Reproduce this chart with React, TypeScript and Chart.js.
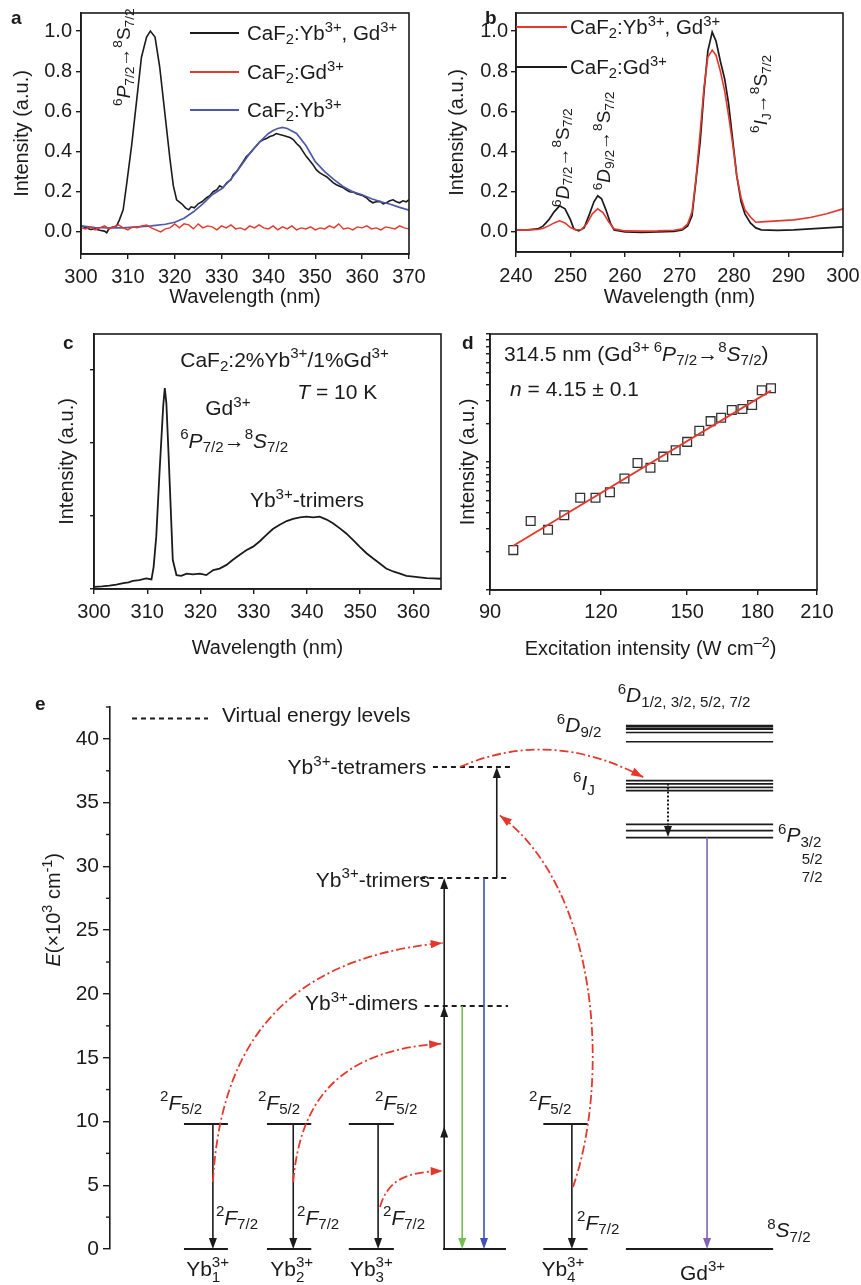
import React, { useEffect, useRef } from "react";
import { Chart, registerables } from "chart.js";
Chart.register(...registerables);

const FONT = '"Liberation Sans", Arial, Helvetica, sans-serif';
const INK = "#1b1b1b";
const RED = "#e5382d";
const BLUE = "#4f59a8";
const GREEN = "#72c04d";
const BLUE2 = "#3f50b6";
const PURPLE = "#8064b4";

// ---------------- Panel a ----------------
const aWlBlack = [300,301,302,303,304,305,305.5,306,307,307.6,308.2,309,309.7,310.8,311.9,312.9,314,314.8,315.8,316.8,317.9,319,319.7,320.4,321.5,322.3,323,323.5,324.2,325,325.8,326.8,327.5,328.2,329,329.6,330.3,331.1,332,332.5,333.2,333.9,334.6,335.3,336,336.7,337.5,338.2,339,339.6,340.3,341,341.7,342.4,343.2,343.9,344.6,345.3,346,346.7,347.4,348.1,348.8,349.5,350.2,350.9,351.6,352.4,353.1,353.8,354.5,355.2,356,356.6,357.3,358.1,358.8,359.5,360.2,360.9,361.6,362.3,363,363.8,364.5,365.2,365.9,366.6,367.3,368,368.7,369.4,370];
const aIntBlack = [0.030,0.022,0.012,0.015,0.008,0.004,-0.004,0.018,0.025,0.030,0.060,0.110,0.230,0.430,0.660,0.870,0.970,1.000,0.970,0.820,0.590,0.360,0.230,0.160,0.140,0.120,0.110,0.125,0.120,0.140,0.150,0.170,0.180,0.200,0.210,0.230,0.220,0.245,0.260,0.285,0.300,0.325,0.350,0.375,0.390,0.410,0.430,0.450,0.460,0.465,0.475,0.480,0.490,0.485,0.480,0.475,0.470,0.460,0.440,0.425,0.400,0.375,0.355,0.335,0.310,0.295,0.285,0.275,0.260,0.245,0.235,0.227,0.220,0.210,0.200,0.198,0.190,0.185,0.180,0.170,0.155,0.145,0.150,0.152,0.140,0.145,0.155,0.160,0.150,0.145,0.155,0.150,0.160];
const aWlBlue = [300,303,306,309,312,315,318,320,322,324,326,328,330,332,334,336,338,340,341,342,343,344,346,348,350,352,354,356,358,360,362,364,366,368,370];
const aIntBlue = [0.030,0.022,0.020,0.020,0.025,0.030,0.038,0.048,0.068,0.100,0.140,0.185,0.215,0.262,0.325,0.390,0.445,0.490,0.505,0.515,0.520,0.515,0.490,0.430,0.350,0.300,0.260,0.225,0.200,0.185,0.165,0.150,0.138,0.122,0.108];
const aWlRed = [300,301,302,303,304,305,306,307,308,309,310,311,312,313,314,315,316,317,318,319,320,321,322,323,324,325,326,327,328,329,330,331,332,333,334,335,336,337,338,339,340,341,342,343,344,345,346,347,348,349,350,351,352,353,354,355,356,357,358,359,360,361,362,363,364,365,366,367,368,369,370];
const aIntRed = [0.02,0.015,0.025,0.01,0.02,0.03,0.015,0.025,0.035,0.02,0.01,0.025,0.02,0.03,0.035,0.02,0.01,0.0,0.015,0.02,0.04,0.02,0.04,0.035,0.015,0.04,0.02,0.03,0.025,0.01,0.03,0.02,0.035,0.015,0.02,0.01,0.03,0.02,0.035,0.02,0.015,0.03,0.01,0.025,0.015,0.03,0.01,0.02,0.015,0.025,0.01,0.02,0.015,0.03,0.02,0.04,0.015,0.02,0.01,0.025,0.02,0.03,0.015,0.02,0.01,0.025,0.02,0.015,0.03,0.02,0.015];
const aXTicks = [300,310,320,330,340,350,360,370];
const aYTicks = [0,0.2,0.4,0.6,0.8,1.0];
const aLegend = ["CaF_{2}:Yb^{3+}, Gd^{3+}", "CaF_{2}:Gd^{3+}", "CaF_{2}:Yb^{3+}"];

// ---------------- Panel b ----------------
const bWlBlack = [240,242,244,245,246,247,248,249,250,250.6,251.5,252.5,253.5,254.3,255,255.7,256.5,257.3,258,260,263,266,269,270.5,271.5,272.3,273,273.8,274.5,275.2,276,276.7,277.5,278.3,279,279.8,280.5,281.3,282,283,284,285,288,291,294,297,300];
const bIntBlack = [0.010,0.010,0.015,0.030,0.060,0.100,0.130,0.115,0.060,0.015,0.005,0.020,0.090,0.150,0.180,0.165,0.110,0.045,0.010,0.000,-0.002,0.000,0.002,0.010,0.030,0.080,0.250,0.450,0.700,0.900,0.995,0.950,0.850,0.760,0.640,0.450,0.280,0.150,0.090,0.045,0.020,0.010,0.008,0.010,0.015,0.020,0.025];
const bWlRed = [240,242,244,245,246,247,248,249,250,251,252,253,254,255,256,257,258,260,263,266,269,270.5,271.5,272.3,273,273.8,274.5,275.2,276,276.7,277.5,278.3,279,279.8,280.5,281.3,282,283,284,285,288,291,294,297,300];
const bIntRed = [0.010,0.010,0.012,0.018,0.030,0.045,0.055,0.045,0.022,0.010,0.012,0.040,0.090,0.115,0.095,0.050,0.015,0.005,0.004,0.005,0.008,0.015,0.040,0.100,0.260,0.500,0.720,0.870,0.905,0.880,0.800,0.700,0.580,0.430,0.280,0.170,0.110,0.075,0.048,0.050,0.055,0.060,0.072,0.090,0.115];
const bXTicks = [240,250,260,270,280,290,300];
const bYTicks = [0,0.2,0.4,0.6,0.8,1.0];
const bLegend = ["CaF_{2}:Yb^{3+}, Gd^{3+}", "CaF_{2}:Gd^{3+}"];

// ---------------- Panel c ----------------
const cWl = [300,301.5,302.9,304.2,305.5,306.5,307.3,308.5,309.8,310.8,311.2,311.7,312.3,313,313.3,313.6,314,314.5,314.8,315.5,316.4,317.4,318.6,319.9,321.1,322.4,323.6,324.9,326.1,327.4,328.6,329.9,331.1,332.4,333.6,334.9,336.2,337.4,338.7,339.9,341.2,342.4,343.7,344.9,346.2,347.4,348.7,349.9,351.2,352.4,353.7,354.9,356.2,357.5,358.7,360,361.2,362.5,363.7,365.2];
const cInt = [0.03,0.035,0.045,0.06,0.08,0.09,0.11,0.12,0.146,0.13,0.3,0.72,1.58,2.5,2.75,2.54,1.86,0.95,0.4,0.19,0.18,0.21,0.2,0.21,0.19,0.26,0.28,0.33,0.4,0.47,0.53,0.58,0.65,0.74,0.82,0.88,0.93,0.96,0.98,0.99,0.98,0.99,0.95,0.9,0.83,0.76,0.67,0.58,0.49,0.42,0.35,0.28,0.24,0.21,0.18,0.17,0.16,0.15,0.146,0.14];
const cXTicks = [300,310,320,330,340,350,360];
const cYTicks = [0,1,2,3];

// ---------------- Panel d ----------------
const dExc = [95.6,100.0,104.6,109.1,113.7,118.3,122.8,127.5,131.9,136.4,141.0,145.6,150.0,154.8,159.4,163.8,168.4,173.1,177.5,182.0,186.4];
const dInt = [0.205,0.346,0.296,0.384,0.525,0.525,0.581,0.744,0.982,0.903,1.101,1.235,1.436,1.752,2.086,2.216,2.545,2.593,2.786,3.633,3.766];
const dFitX = [95.6, 186.4];
const dFitY = [0.222, 3.61];
const dXTicks = [90,120,150,180,210];
const dYTicks = [0.1,0.2,0.3,0.4,0.5,0.6,0.7,0.8,0.9,1,2,3,4,5,6,7,8,9,10];

// ---------------- Panel e (energy, ×10³ cm⁻¹) ----------------
const eYTicks = [0,5,10,15,20,25,30,35,40];
const eMinorTicks = [2.5,7.5,12.5,17.5,22.5,27.5,32.5,37.5,42.5];
const ybLevels = [0, 9.8];              // 2F7/2, 2F5/2
const clusterLevels = [19.06, 29.1, 37.8]; // dimers, trimers, tetramers
const gdD = [41.0, 40.78, 40.5, 39.78];
const gdDWidth = [2.6, 2.2, 1.6, 1.6];
const gdI = [36.73, 36.47, 36.2, 35.94];
const gdP = [33.3, 32.8, 32.26];
const legendLevel = 41.6;

// schematic column positions (hidden x axis 0..100)
const ybSpans = [[9.85,15.7],[20.9,26.8],[31.8,37.8],[57.7,63.6]];
const ybArrowX = [13.7, 24.4, 35.7, 61.5];
const centerSpan = [44.34, 52.73];
const clusterSpans = [[41.9,53.0],[41.3,53.3],[43.0,53.3]];
const gdSpan = [68.7, 88.3];
const legendSpan = [2.93, 13.05];

// ---------------- rich text ----------------
type Seg = { k: string; t: string; b?: string; it: boolean };
function parseRich(m: string): Seg[] {
  const segs: Seg[] = [];
  let it = false;
  let buf = "";
  const flush = () => { if (buf) { segs.push({ k: "n", t: buf, it }); buf = ""; } };
  for (let i = 0; i < m.length; i++) {
    const c = m[i];
    if (c === "*") { flush(); it = !it; continue; }
    if ((c === "^" || c === "_" || c === "@") && m[i + 1] === "{") {
      flush();
      const end = m.indexOf("}", i);
      const inner = m.slice(i + 2, end);
      if (c === "@") { const [a, b] = inner.split("|"); segs.push({ k: "stack", t: a, b, it: false }); }
      else segs.push({ k: c === "^" ? "sup" : "sub", t: inner, it: false });
      i = end;
      continue;
    }
    buf += c;
  }
  flush();
  return segs;
}
function fnt(size: number, it: boolean, bold: boolean) {
  return `${it ? "italic " : ""}${bold ? "bold " : ""}${size}px ${FONT}`;
}
function drawRich(ctx: CanvasRenderingContext2D, m: string, x: number, y: number, size: number,
  align = "left", color = INK, rot = 0, bold = false) {
  const segs = parseRich(m);
  const ss = size * 0.72;
  const widths = segs.map((s) => {
    if (s.k === "n") { ctx.font = fnt(size, s.it, bold); return ctx.measureText(s.t).width; }
    ctx.font = fnt(ss, false, bold);
    if (s.k === "stack") return Math.max(ctx.measureText(s.t).width, ctx.measureText(s.b || "").width);
    return ctx.measureText(s.t).width;
  });
  const total = widths.reduce((a, b) => a + b, 0);
  ctx.save();
  ctx.translate(x, y);
  if (rot) ctx.rotate(rot);
  ctx.fillStyle = color;
  ctx.textAlign = "left";
  ctx.textBaseline = "alphabetic";
  let cx = align === "left" ? 0 : align === "center" ? -total / 2 : -total;
  const base = size * 0.36;
  segs.forEach((s, i) => {
    if (s.k === "n") { ctx.font = fnt(size, s.it, bold); ctx.fillText(s.t, cx, base); }
    else {
      ctx.font = fnt(ss, false, bold);
      if (s.k === "sup") ctx.fillText(s.t, cx, base - size * 0.42);
      else if (s.k === "sub") ctx.fillText(s.t, cx, base + size * 0.2);
      else { ctx.fillText(s.t, cx, base - size * 0.42); ctx.fillText(s.b || "", cx, base + size * 0.28); }
    }
    cx += widths[i];
  });
  ctx.restore();
}

// ---------------- helpers ----------------
const tickFont = { family: FONT, size: 20 };
const gridTicks = (len = 5) => ({ display: true, drawOnChartArea: false, drawTicks: true, tickLength: len, color: INK, lineWidth: 1.4 });
const border = { display: true, color: INK, width: 1.6 };
const fixedTicks = (vals: number[]) => (s: any) => { s.ticks = vals.map((v) => ({ value: v })); };
const fixY = (w: number) => (s: any) => { s.width = w; s.paddingTop = 0; s.paddingBottom = 0; s.paddingLeft = 0; s.paddingRight = 0; };
const fixX = (h: number) => (s: any) => { s.height = h; s.paddingTop = 0; s.paddingBottom = 0; s.paddingLeft = 0; s.paddingRight = 0; };

function series(xs: number[], ys: number[], color: string, w: number, extra: any = {}) {
  return { data: xs.map((x, i) => ({ x, y: ys[i] })), showLine: true, borderColor: color, borderWidth: w, pointRadius: 0, tension: 0, ...extra };
}
function baseOpts(W: number, H: number, area: any, scales: any, padBottom = 0) {
  return {
    responsive: false, animation: false, devicePixelRatio: 1, events: [],
    layout: { padding: { left: 0, top: area.t, right: W - area.r, bottom: padBottom } },
    plugins: { legend: { display: false }, tooltip: { enabled: false } },
    scales,
  };
}
const framePlugin = {
  id: "frame",
  afterDatasetsDraw(chart: any) {
    const { ctx, chartArea: { left, top, right, bottom } } = chart;
    ctx.save(); ctx.strokeStyle = INK; ctx.lineWidth = 1.6;
    ctx.strokeRect(left, top, right - left, bottom - top);
    ctx.restore();
  },
};
const textPlugin = (fn: (c: any) => void) => ({ id: "texts", afterDraw: fn });

function xLin(min: number, max: number, ticks: number[], H: number, area: any, pad: number, title: string | null, titlePadBottom: number, fmt = (v: number) => String(v)) {
  return {
    type: "linear", min, max, afterBuildTicks: fixedTicks(ticks),
    ticks: { font: tickFont, color: INK, padding: pad, autoSkip: false, maxRotation: 0, callback: (v: any) => fmt(Number(v)) },
    grid: gridTicks(), border,
    title: { display: !!title, text: title || "", font: tickFont, color: INK, padding: { top: 0, bottom: titlePadBottom } },
    afterFit: fixX(H - area.b),
  };
}
function yAxis(type: string, min: number, max: number, ticks: number[], area: any, pad: number, showLabels: boolean, titlePadTop: number, tickLen = 5) {
  return {
    type, min, max, afterBuildTicks: fixedTicks(ticks),
    ticks: { display: showLabels, font: tickFont, color: INK, padding: pad, autoSkip: false, callback: (v: any) => Number(v).toFixed(1) },
    grid: gridTicks(tickLen), border,
    title: { display: true, text: "Intensity (a.u.)", font: tickFont, color: INK, padding: { top: titlePadTop, bottom: 0 } },
    afterFit: fixY(area.l),
  };
}
function legendRows(ctx: any, rows: string[], colors: string[], x0: number, x1: number, tx: number, ys: number[]) {
  rows.forEach((r, i) => {
    ctx.save(); ctx.strokeStyle = colors[i]; ctx.lineWidth = 1.8;
    ctx.beginPath(); ctx.moveTo(x0, ys[i]); ctx.lineTo(x1, ys[i]); ctx.stroke(); ctx.restore();
    drawRich(ctx, r, tx, ys[i], 20.5);
  });
}

// ---------------- configs ----------------
function configA() {
  const W = 430, H = 320, area = { l: 81, t: 13, r: 409, b: 254 };
  return {
    type: "scatter",
    data: { datasets: [series(aWlRed, aIntRed, RED, 1.4), series(aWlBlue, aIntBlue, BLUE, 1.7), series(aWlBlack, aIntBlack, INK, 1.6)] },
    options: baseOpts(W, H, area, {
      x: xLin(300, 370, aXTicks, H, area, 6, "Wavelength (nm)", 11),
      y: yAxis("linear", -0.11, 1.09, aYTicks, area, 4, true, 10),
    }),
    plugins: [framePlugin, textPlugin((chart: any) => {
      const { ctx, scales: { x, y } } = chart;
      drawRich(ctx, "a", 11, 17, 19, "left", INK, 0, true);
      legendRows(ctx, aLegend, [INK, RED, BLUE], 190, 239, 247, [33, 72, 110]);
      drawRich(ctx, "^{6}*P*_{7/2}→^{8}S_{7/2}", x.getPixelForValue(309), y.getPixelForValue(0.87), 19, "center", INK, -Math.PI / 2);
    })],
  };
}
function configB() {
  const W = 431, H = 320, area = { l: 86, t: 13, r: 413, b: 252 };
  return {
    type: "scatter",
    data: { datasets: [series(bWlRed, bIntRed, RED, 1.6), series(bWlBlack, bIntBlack, INK, 1.7)] },
    options: baseOpts(W, H, area, {
      x: xLin(240, 300, bXTicks, H, area, 7, "Wavelength (nm)", 11),
      y: yAxis("linear", -0.1, 1.09, bYTicks, area, 3, true, 15),
    }),
    plugins: [framePlugin, textPlugin((chart: any) => {
      const { ctx, scales: { x, y } } = chart;
      drawRich(ctx, "b", 55, 17, 19, "left", INK, 0, true);
      legendRows(ctx, bLegend, [RED, INK], 86, 137, 140, [27, 67]);
      const rl = (t: string, wx: number, iy: number) =>
        drawRich(ctx, t, x.getPixelForValue(wx), y.getPixelForValue(iy), 19, "center", INK, -Math.PI / 2);
      rl("^{6}*D*_{7/2}→^{8}S_{7/2}", 248.4, 0.37);
      rl("^{6}*D*_{9/2}→^{8}S_{7/2}", 256.0, 0.453);
      rl("^{6}*I*_{J}→^{8}S_{7/2}", 284.8, 0.687);
    })],
  };
}
function configC() {
  const W = 445, H = 340, area = { l: 94, t: 14, r: 441, b: 269 };
  return {
    type: "scatter",
    data: { datasets: [series(cWl, cInt, INK, 1.8)] },
    options: baseOpts(W, H, area, {
      x: xLin(300, 365.2, cXTicks, H, area, 6, "Wavelength (nm)", 0),
      y: yAxis("linear", 0, 3.49, cYTicks, area, 4, false, 55, 4),
    }),
    plugins: [framePlugin, textPlugin((chart: any) => {
      const { ctx, scales: { x, y } } = chart;
      const P = (t: string, wx: number, iy: number) => drawRich(ctx, t, x.getPixelForValue(wx), y.getPixelForValue(iy), 21);
      drawRich(ctx, "c", 63, 22, 19, "left", INK, 0, true);
      P("CaF_{2}:2%Yb^{3+}/1%Gd^{3+}", 316.2, 3.14);
      P("*T* = 10 K", 338.2, 2.71);
      P("Gd^{3+}", 320.9, 2.48);
      P("^{6}*P*_{7/2}→^{8}*S*_{7/2}", 316.2, 2.04);
      P("Yb^{3+}-trimers", 329.3, 1.22);
    })],
  };
}
function configD() {
  const W = 416, H = 340, area = { l: 45, t: 14, r: 372, b: 270 };
  return {
    type: "scatter",
    data: {
      datasets: [
        series(dFitX, dFitY, RED, 1.8),
        { data: dExc.map((x, i) => ({ x, y: dInt[i] })), showLine: false, pointStyle: "rect", pointRadius: 6.2, borderColor: "#333", borderWidth: 1.3, backgroundColor: "rgba(0,0,0,0)" },
      ],
    },
    options: baseOpts(W, H, area, {
      x: { ...xLin(90, 210, dXTicks, H, area, 5, null, 0), type: "logarithmic" },
      y: yAxis("logarithmic", 0.1, 10, dYTicks, area, 4, false, 11, 4),
    }),
    plugins: [framePlugin, textPlugin((chart: any) => {
      const { ctx, scales: { x, y }, chartArea } = chart;
      drawRich(ctx, "d", 17, 22, 19, "left", INK, 0, true);
      drawRich(ctx, "314.5 nm (Gd^{3+ 6}*P*_{7/2}→^{8}*S*_{7/2})", x.getPixelForValue(93.3), y.getPixelForValue(7.08), 21);
      drawRich(ctx, "*n* = 4.15 ± 0.1", x.getPixelForValue(94.8), y.getPixelForValue(3.76), 21);
      drawRich(ctx, "Excitation intensity (W cm^{–2})", (chartArea.left + chartArea.right) / 2 - 3, 328, 20, "center");
    })],
  };
}

// e: arrows, curves, labels
const eArrows = [
  ...ybArrowX.map((x) => ({ x, from: ybLevels[1], to: ybLevels[0], color: INK, heads: [] as number[], dash: null as any })),
  { x: 44.5, from: 0, to: clusterLevels[1], color: INK, heads: [9.6, clusterLevels[0]], dash: null },
  { x: 46.9, from: clusterLevels[0], to: 0, color: GREEN, heads: [], dash: null },
  { x: 49.8, from: clusterLevels[1], to: 0, color: BLUE2, heads: [], dash: null },
  { x: 51.5, from: clusterLevels[1], to: clusterLevels[2], color: INK, heads: [], dash: null },
  { x: 74.3, from: 36.5, to: 32.3, color: INK, heads: [], dash: [2, 2] },
  { x: 79.5, from: gdP[2], to: 0, color: PURPLE, heads: [], dash: null },
];
const eCurves = [
  [[13.7, 5.25], [14.65, 14.8], [21.3, 22.7], [44.3, 24.0]],
  [[24.4, 5.25], [25.3, 11.7], [30.6, 15.6], [44.1, 16.1]],
  [[35.95, 3.3], [37.0, 5.4], [39.3, 6.04], [44.3, 6.12]],
  [[61.65, 4.86], [66.6, 13.3], [65.2, 28.2], [51.9, 34.0]],
  [[46.6, 37.8], [54.6, 39.84], [62.7, 39.6], [71.0, 37.0]],
];
const eLabels: { t: string; x: number; e: number; size?: number; align?: string }[] = [
  { t: "Virtual energy levels", x: 14.9, e: 41.9, size: 21 },
  { t: "Yb^{3+}-tetramers", x: 42.1, e: 37.8, align: "right" },
  { t: "Yb^{3+}-trimers", x: 42.6, e: 29.0, align: "right" },
  { t: "Yb^{3+}-dimers", x: 41.0, e: 19.3, align: "right" },
  ...[6.66, 19.7, 35.3, 55.8].map((x) => ({ t: "^{2}*F*_{5/2}", x, e: 11.5 })),
  ...[14.1, 24.9, 36.35, 62.2].map((x, i) => ({ t: "^{2}*F*_{7/2}", x, e: i === 3 ? 2.1 : 2.5 })),
  ...[13.0, 24.2, 34.8, 60.3].map((x, i) => ({ t: `Yb@{3+|${i + 1}}`, x, e: -1.5, align: "center" })),
  { t: "Gd^{3+}", x: 78.9, e: -1.8, align: "center" },
  { t: "^{8}*S*_{7/2}", x: 87.5, e: 1.5 },
  { t: "^{6}*D*_{1/2, 3/2, 5/2, 7/2}", x: 67.6, e: 43.45 },
  { t: "^{6}*D*_{9/2}", x: 59.5, e: 41.1 },
  { t: "^{6}*I*_{J}", x: 61.65, e: 36.55 },
  { t: "^{6}*P*_{3/2}", x: 88.95, e: 32.47 },
  { t: "5/2", x: 92.1, e: 30.6, size: 15 },
  { t: "7/2", x: 92.1, e: 29.2, size: 15 },
];

function drawArrowV(ctx: any, px: number, y0: number, y1: number, color: string, dash: any, extra: number[]) {
  const dir = y1 > y0 ? 1 : -1, L = 11, Wd = 4;
  ctx.save(); ctx.strokeStyle = color; ctx.fillStyle = color; ctx.lineWidth = dash ? 2 : 1.6;
  if (dash) ctx.setLineDash(dash);
  ctx.beginPath(); ctx.moveTo(px, y0); ctx.lineTo(px, y1 - dir * L * 0.6); ctx.stroke();
  ctx.setLineDash([]);
  for (const tip of [y1, ...extra]) {
    ctx.beginPath(); ctx.moveTo(px, tip); ctx.lineTo(px - Wd, tip - dir * L); ctx.lineTo(px + Wd, tip - dir * L); ctx.closePath(); ctx.fill();
  }
  ctx.restore();
}
function drawCurve(ctx: any, p: number[][]) {
  ctx.save(); ctx.strokeStyle = RED; ctx.lineWidth = 1.8; ctx.setLineDash([9, 3, 2, 3]);
  ctx.beginPath(); ctx.moveTo(p[0][0], p[0][1]);
  ctx.bezierCurveTo(p[1][0], p[1][1], p[2][0], p[2][1], p[3][0], p[3][1]); ctx.stroke();
  ctx.setLineDash([]);
  const ang = Math.atan2(p[3][1] - p[2][1], p[3][0] - p[2][0]);
  ctx.translate(p[3][0], p[3][1]); ctx.rotate(ang);
  ctx.beginPath(); ctx.moveTo(0, 0); ctx.lineTo(-12, -4.2); ctx.lineTo(-12, 4.2); ctx.closePath();
  ctx.fillStyle = RED; ctx.fill();
  ctx.restore();
}

function configE() {
  const W = 861, H = 625, area = { l: 110, t: 47, r: 861, b: 589 };
  const lvl = (span: number[], e: number, w = 2, dash: any = undefined) =>
    series(span, [e, e], INK, w, { clip: false, borderDash: dash || [] });
  const datasets: any[] = [];
  ybSpans.forEach((s) => ybLevels.forEach((e) => datasets.push(lvl(s, e))));
  datasets.push(lvl(centerSpan, 0));
  clusterSpans.forEach((s, i) => datasets.push(lvl(s, clusterLevels[i], 2, [5, 4])));
  datasets.push(lvl(legendSpan, legendLevel, 2, [5, 4]));
  datasets.push(lvl(gdSpan, 0));
  gdD.forEach((e, i) => datasets.push(lvl(gdSpan, e, gdDWidth[i])));
  gdI.forEach((e) => datasets.push(lvl(gdSpan, e, 1.8)));
  gdP.forEach((e) => datasets.push(lvl(gdSpan, e, 1.8)));
  return {
    type: "scatter",
    data: { datasets },
    options: baseOpts(W, H, area, {
      x: { type: "linear", min: 0, max: 100, display: false },
      y: {
        type: "linear", min: 0, max: 42.5, afterBuildTicks: fixedTicks(eYTicks),
        ticks: { font: { family: FONT, size: 21 }, color: INK, padding: 4, autoSkip: false, callback: (v: any) => String(v) },
        grid: gridTicks(7), border, afterFit: fixY(area.l),
      },
    }, H - area.b),
    plugins: [textPlugin((chart: any) => {
      const { ctx, scales: { x, y }, chartArea } = chart;
      const X = (u: number) => x.getPixelForValue(u), Y = (e: number) => y.getPixelForValue(e);
      ctx.save(); ctx.strokeStyle = INK; ctx.lineWidth = 1.4;
      for (const m of eMinorTicks) { ctx.beginPath(); ctx.moveTo(chartArea.left, Y(m)); ctx.lineTo(chartArea.left - 4, Y(m)); ctx.stroke(); }
      ctx.restore();
      for (const a of eArrows) drawArrowV(ctx, X(a.x), Y(a.from), Y(a.to), a.color, a.dash, a.heads.map(Y));
      for (const c of eCurves) drawCurve(ctx, c.map(([u, e]) => [X(u), Y(e)]));
      for (const l of eLabels) drawRich(ctx, l.t, X(l.x), Y(l.e), l.size || 21, l.align || "left");
      drawRich(ctx, "*E*(×10^{3} cm^{-1})", chartArea.left - 57, Y(26.6), 20, "center", INK, -Math.PI / 2);
      drawRich(ctx, "e", 35, 43, 19, "left", INK, 0, true);
    })],
  };
}

function Panel({ left, top, width, height, make }: { left: number; top: number; width: number; height: number; make: () => any }) {
  const ref = useRef<HTMLCanvasElement>(null);
  useEffect(() => {
    const chart = new Chart(ref.current as HTMLCanvasElement, make());
    return () => chart.destroy();
  }, []);
  return <canvas ref={ref} width={width} height={height} style={{ position: "absolute", left, top, width, height }} />;
}

export default function App() {
  return (
    <div style={{ position: "absolute", left: 0, top: 0, width: 861, height: 1285, background: "#fff", overflow: "hidden" }}>
      <Panel left={0} top={0} width={430} height={320} make={configA} />
      <Panel left={430} top={0} width={431} height={320} make={configB} />
      <Panel left={0} top={320} width={445} height={340} make={configC} />
      <Panel left={445} top={320} width={416} height={340} make={configD} />
      <Panel left={0} top={660} width={861} height={625} make={configE} />
    </div>
  );
}
